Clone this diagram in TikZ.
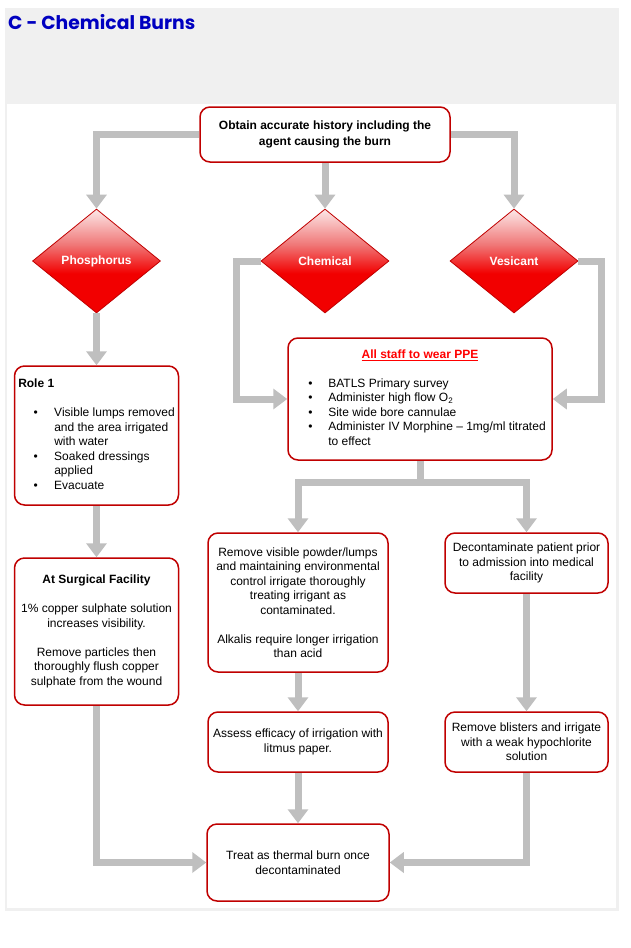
\documentclass[tikz,border=0pt]{standalone}
\usepackage{fontspec}
\setmainfont{Liberation Sans}
\newfontfamily\titlefont{Poppins}
\usetikzlibrary{shapes.geometric,arrows.meta,calc}
\definecolor{framegray}{RGB}{240,240,240}
\definecolor{titleblue}{RGB}{0,0,192}
\definecolor{boxred}{RGB}{192,0,0}
\definecolor{arrowgray}{RGB}{191,191,191}
\definecolor{dred}{RGB}{242,0,0}
\definecolor{midred}{RGB}{240,120,120}
\definecolor{lightred}{RGB}{252,232,232}
\definecolor{ppered}{RGB}{255,0,0}
\pgfdeclareverticalshading{diashade}{100bp}{color(0bp)=(dred); color(25bp)=(dred); color(44bp)=(dred); color(58bp)=(midred); color(75bp)=(lightred); color(100bp)=(lightred)}
\newcommand{\rbul}{\makebox[36pt][l]{\hspace{15.4pt}\textbullet}}
\newcommand{\pbul}{\makebox[34pt][l]{\hspace{14pt}\textbullet}}
\begin{document}
\begin{tikzpicture}[x=1pt,y=-1pt,font=\fontsize{12}{14.5}\selectfont,
  box/.style={draw=boxred, line width=1.5pt, rounded corners=10pt, fill=white, align=center, inner sep=2pt},
  dia/.style={diamond, draw=boxred, line width=0.8pt, shade, shading=diashade, minimum width=128pt, minimum height=104pt, inner sep=0pt, text=white, font=\fontsize{12}{14.5}\selectfont\bfseries},
  flow/.style={draw=arrowgray, line width=7pt, -{Triangle[width=20pt,length=14pt]}},
  plainflow/.style={draw=arrowgray, line width=7pt}]
\useasboundingbox (0,0) rectangle (630,948);
\fill[framegray] (5,8) rectangle (619,911);
\fill[white] (7,104) rectangle (616,908);
\node[anchor=west, text=titleblue, font=\titlefont\bfseries\fontsize{18.8}{21}\selectfont, inner sep=0pt] (title) at (8,22) {C - Chemical Burns};

\node[box, minimum width=250pt, minimum height=55pt, font=\fontsize{12}{14.5}\selectfont\bfseries] (top) at (325,134.5) {Obtain accurate history including the\\[2pt]agent causing the burn};

\node[dia] (pho) at (96.5,261) {Phosphorus};
\node[dia] (chem) at (325,261) {Chemical};
\node[dia] (ves) at (514,261) {Vesicant};

\node[box, minimum width=164pt, minimum height=139pt] (role) at (96.5,435.5) {\begin{tabular}{@{}l@{}l@{}}
\multicolumn{2}{@{}l@{}}{\textbf{Role 1}}\\
 & \\
\rbul & Visible lumps removed\\
 & and the area irrigated\\
 & with water\\
\rbul & Soaked dressings\\
 & applied\\
\rbul & Evacuate
\end{tabular}};

\node[box, minimum width=164pt, minimum height=147pt] (surg) at (96.5,631.5) {\textbf{At Surgical Facility}\\[14.5pt]1\% copper sulphate solution\\increases visibility.\\[14.5pt]Remove particles then\\thoroughly flush copper\\sulphate from the wound};

\node[box, minimum width=264pt, minimum height=122pt] (ppe) at (420,399) {\begin{tabular}{@{}l@{}l@{}}
\multicolumn{2}{@{}c@{}}{\textcolor{ppered}{\underline{\textbf{All staff to wear PPE}}}}\\
 & \\
\pbul & BATLS Primary survey\\
\pbul & Administer high flow O\textsubscript{2}\\
\pbul & Site wide bore cannulae\\
\pbul & Administer IV Morphine – 1mg/ml titrated\\
 & to effect
\end{tabular}};

\node[box, minimum width=180pt, minimum height=139pt] (rem) at (298,602.5) {Remove visible powder/lumps\\and maintaining environmental\\control irrigate thoroughly\\treating irrigant as\\contaminated.\\[14.5pt]Alkalis require longer irrigation\\than acid};
\node[box, minimum width=163pt, minimum height=60pt] (dec) at (526.5,563) {Decontaminate patient prior\\to admission into medical\\facility};
\node[box, minimum width=180pt, minimum height=60pt] (ass) at (298,742) {Assess efficacy of irrigation with\\litmus paper.};
\node[box, minimum width=163pt, minimum height=60pt] (blis) at (526.5,742) {Remove blisters and irrigate\\with a weak hypochlorite\\solution};
\node[box, minimum width=182pt, minimum height=77pt] (treat) at (298,862.5) {Treat as thermal burn once\\decontaminated};

\draw[flow] (top.west) -| (pho.north);
\draw[flow] (top.east) -| (ves.north);
\draw[flow] (top.south) -- (chem.north);
\draw[flow] (pho.south) -- (role.north);
\draw[flow] (role.south) -- (surg.north);
\draw[flow] (chem.west) -- ++(-24,0) |- (ppe.west);
\draw[flow] (ves.east) -- ++(23,0) |- (ppe.east);
\coordinate (split) at ($(ppe.south)+(0,22)$);
\draw[plainflow] (ppe.south) -- (split);
\draw[flow] (split) -| (rem.north);
\draw[flow] (split) -| (dec.north);
\draw[flow] (rem.south) -- (ass.north);
\draw[flow] (ass.south) -- (treat.north);
\draw[flow] (dec.south) -- (blis.north);
\draw[flow] (surg.south) |- (treat.west);
\draw[flow] (blis.south) |- (treat.east);
\end{tikzpicture}
\end{document}
